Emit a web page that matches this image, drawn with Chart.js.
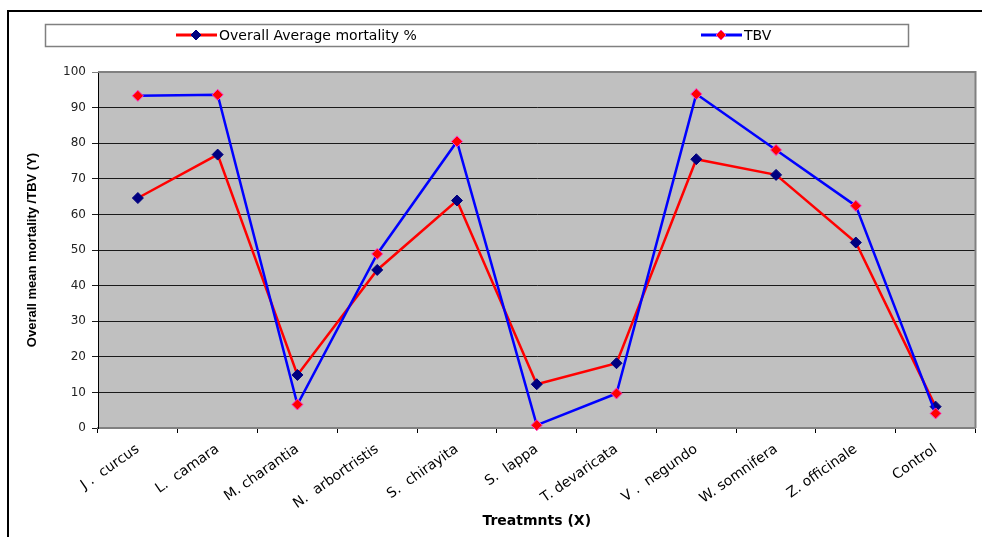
<!DOCTYPE html>
<html>
<head>
<meta charset="utf-8">
<script src="https://cdn.jsdelivr.net/npm/chart.js@4.4.0/dist/chart.umd.min.js"></script>
<style>
  html, body { margin: 0; padding: 0; background: #fff; }
</style>
</head>
<body>
<canvas id="myChart" width="982" height="537"></canvas>
<script>
// Categories and series
const treatments = ['J .  curcus', 'L.  camara', 'M. charantia', 'N.  arbortristis', 'S.  chirayita',
    'S.  lappa', 'T. devaricata', 'V .  negundo', 'W. somnifera', 'Z. officinale', 'Control'];
const overallMortality = [64.6, 76.8, 14.9, 44.4, 63.9, 12.3, 18.2, 75.5, 71.1, 52.1, 6.0];
const tbv = [93.3, 93.6, 6.6, 48.9, 80.5, 0.8, 9.7, 93.8, 78.1, 62.4, 4.1];
const seriesNames = ['Overall Average mortality %', 'TBV'];
const yMin = 0, yMax = 100, yStep = 10;

const ctx = document.getElementById('myChart').getContext('2d');

// White page, grey plot area and the black frame lines
const backgroundPlugin = {
    id: 'background',
    beforeDraw(chart) {
        const c = chart.ctx;
        const a = chart.chartArea;
        c.save();
        c.fillStyle = '#ffffff';
        c.fillRect(0, 0, chart.width, chart.height);
        c.fillStyle = '#c0c0c0';
        c.fillRect(a.left, a.top, a.right - a.left, a.bottom - a.top);
        c.strokeStyle = '#000000';
        c.lineWidth = 2;
        c.beginPath();
        c.moveTo(8, 537);
        c.lineTo(8, 11);
        c.lineTo(982, 11);
        c.stroke();
        c.restore();
    },
    afterDatasetsDraw(chart) {
        // top and right border of plot area
        const c = chart.ctx;
        const a = chart.chartArea;
        c.save();
        c.strokeStyle = '#808080';
        c.lineWidth = 2;
        c.beginPath();
        c.moveTo(a.left, a.top);
        c.lineTo(a.right, a.top);
        c.lineTo(a.right, a.bottom);
        c.stroke();
        c.restore();
    }
};

// Excel style legend: boxed, line + marker + text
function diamond(c, x, y, r, fill, stroke) {
    c.beginPath();
    c.moveTo(x - r, y);
    c.lineTo(x, y - r);
    c.lineTo(x + r, y);
    c.lineTo(x, y + r);
    c.closePath();
    c.fillStyle = fill;
    c.fill();
    c.strokeStyle = stroke;
    c.lineWidth = 1;
    c.stroke();
}

const legendPlugin = {
    id: 'boxLegend',
    afterDraw(chart) {
        const c = chart.ctx;
        c.save();
        c.fillStyle = '#ffffff';
        c.fillRect(45, 24, 863, 22);
        c.strokeStyle = '#808080';
        c.lineWidth = 1.5;
        c.strokeRect(45.5, 24.5, 863, 22);

        const items = [
            { x: 176, line: '#ff0000', fill: '#000080', stroke: '#000080', text: seriesNames[0] },
            { x: 701, line: '#0000ff', fill: '#ff0000', stroke: '#ff33cc', text: seriesNames[1] }
        ];
        const y = 35;
        items.forEach(it => {
            c.strokeStyle = it.line;
            c.lineWidth = 3;
            c.beginPath();
            c.moveTo(it.x, y);
            c.lineTo(it.x + 41, y);
            c.stroke();
            diamond(c, it.x + 20, y, 5, it.fill, it.stroke);
            c.fillStyle = '#000000';
            c.font = '14px "DejaVu Sans"';
            c.textBaseline = 'middle';
            c.textAlign = 'left';
            c.fillText(it.text, it.x + 43, y + 1);
        });
        c.restore();
    }
};

const chart = new Chart(ctx, {
    type: 'line',
    data: {
        labels: treatments,
        datasets: [{
            label: seriesNames[0],
            data: overallMortality,
            borderColor: '#ff0000',
            borderWidth: 2.5,
            pointStyle: 'rectRot',
            pointRadius: 5.5,
            pointBackgroundColor: '#000080',
            pointBorderColor: '#000080',
            pointBorderWidth: 1,
            tension: 0,
            clip: false,
            order: 1
        }, {
            label: seriesNames[1],
            data: tbv,
            borderColor: '#0000ff',
            borderWidth: 2.5,
            pointStyle: 'rectRot',
            pointRadius: 5.5,
            pointBackgroundColor: '#ff0000',
            pointBorderColor: '#ff33cc',
            pointBorderWidth: 1,
            tension: 0,
            clip: false,
            order: 0
        }]
    },
    options: {
        responsive: false,
        animation: false,
        events: [],
        layout: {
            padding: { left: 8, right: 6, top: 72, bottom: 0 }
        },
        plugins: {
            legend: { display: false },
            tooltip: { enabled: false }
        },
        scales: {
            x: {
                offset: true,
                afterFit(scale) { scale.height = 109; },
                grid: {
                    offset: true,
                    drawOnChartArea: false,
                    tickLength: 5,
                    color: '#000000'
                },
                border: { color: '#808080', width: 2 },
                ticks: {
                    minRotation: 35,
                    maxRotation: 35,
                    autoSkip: false,
                    padding: 8,
                    color: '#000000',
                    font: { family: 'DejaVu Sans', size: 14 }
                },
                title: {
                    display: true,
                    text: 'Treatmnts (X)',
                    color: '#000000',
                    font: { family: 'DejaVu Sans', size: 14, weight: 'bold' },
                    padding: { top: 0, bottom: 7 }
                }
            },
            y: {
                min: yMin,
                max: yMax,
                afterFit(scale) { scale.width = 90; },
                grid: {
                    tickLength: 6,
                    color: ctx => ctx.tick && ctx.tick.value === yMax ? '#808080' : '#1a1a1a',
                    lineWidth: 1
                },
                border: { color: '#000000', width: 1 },
                ticks: {
                    stepSize: yStep,
                    padding: 6,
                    color: '#222222',
                    font: { family: 'DejaVu Sans', size: 12 }
                },
                title: {
                    display: true,
                    text: 'Overall mean mortality /TBV (Y)',
                    color: '#000000',
                    font: { family: 'Liberation Sans', size: 13, weight: 'bold' },
                    padding: { top: 17, bottom: 0 }
                }
            }
        }
    },
    plugins: [backgroundPlugin, legendPlugin]
});
</script>
</body>
</html>
